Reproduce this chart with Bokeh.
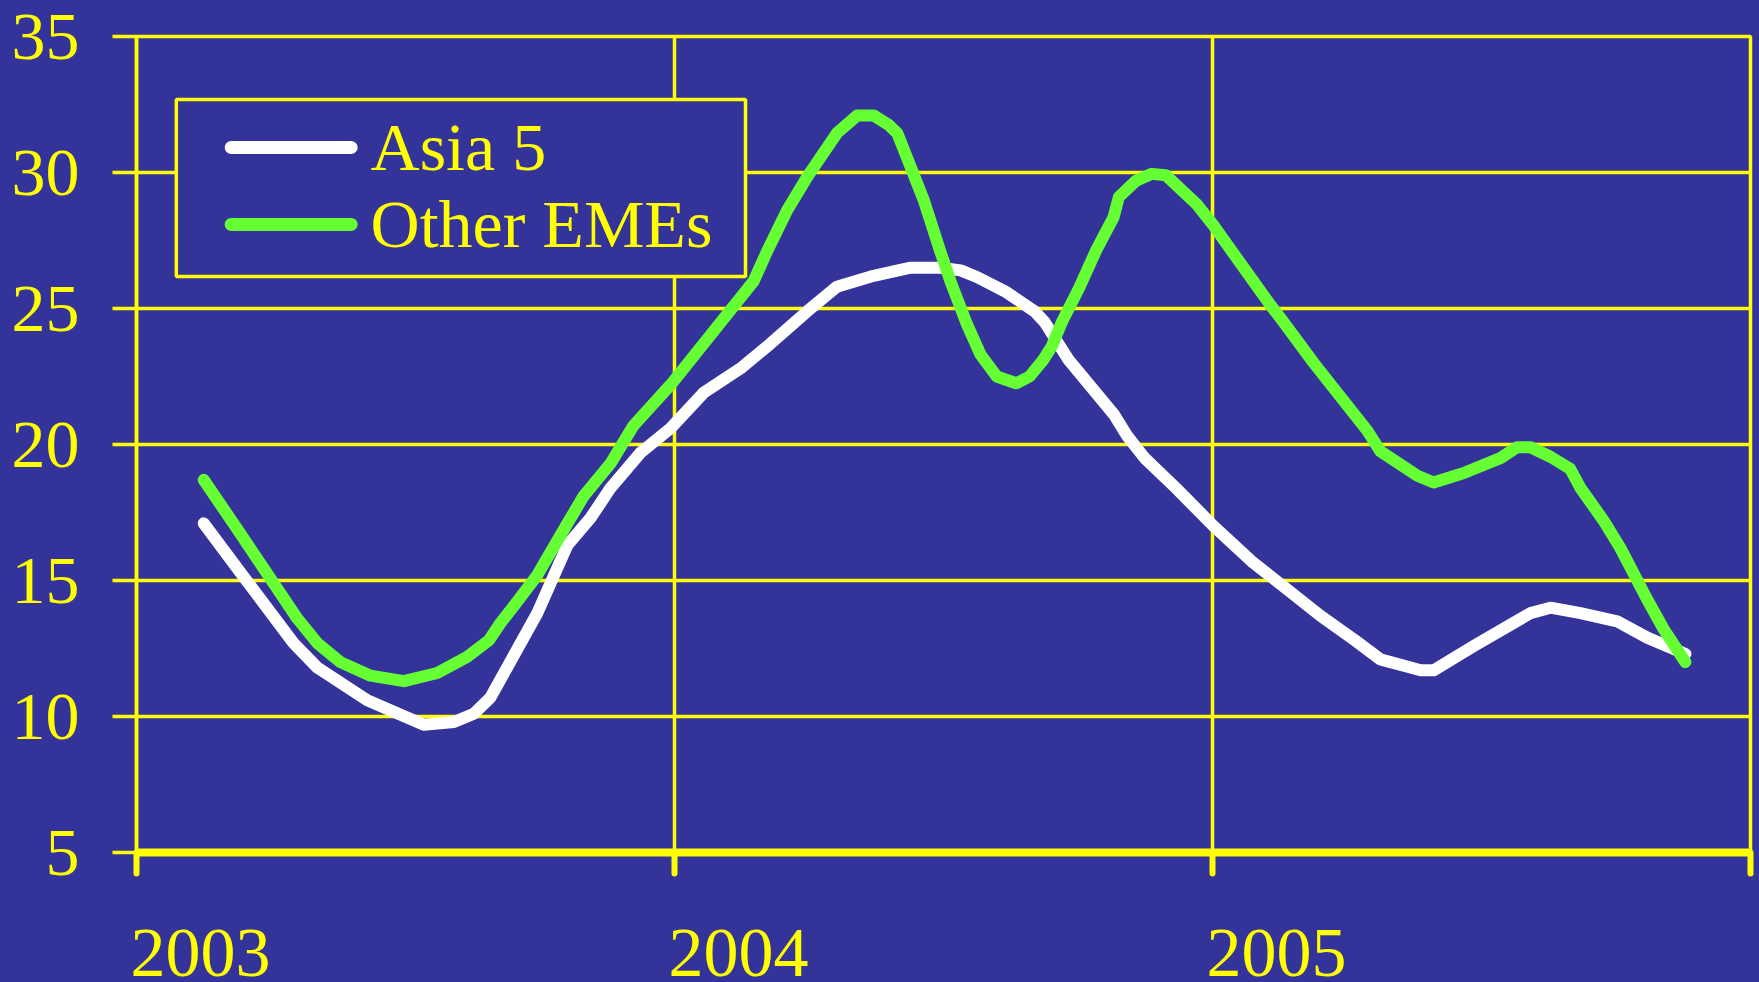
from bokeh.plotting import figure
from bokeh.models import Range1d, FixedTicker, BoxAnnotation, LinearAxis, PrintfTickFormatter
from bokeh.embed import file_html
from bokeh.resources import INLINE
from bokeh.core.properties import value

# ---------------- data ----------------
asia5_x = [2003.125, 2003.193, 2003.292, 2003.336, 2003.429, 2003.534, 2003.590, 2003.627,
           2003.658, 2003.745, 2003.801, 2003.844, 2003.881, 2003.937, 2003.993, 2004.054,
           2004.123, 2004.178, 2004.247, 2004.302, 2004.370, 2004.439, 2004.494, 2004.532,
           2004.563, 2004.617, 2004.669, 2004.688, 2004.733, 2004.817, 2004.842, 2004.874,
           2004.932, 2005.002, 2005.073, 2005.137, 2005.201, 2005.265, 2005.312, 2005.387,
           2005.411, 2005.486, 2005.591, 2005.628, 2005.684, 2005.752, 2005.808, 2005.879]
asia5 = [17.1, 15.3, 12.7, 11.8, 10.6, 9.7, 9.8, 10.1,
         10.7, 13.8, 16.3, 17.3, 18.4, 19.7, 20.6, 21.9,
         22.8, 23.7, 24.9, 25.8, 26.2, 26.5, 26.5, 26.4,
         26.15, 25.6, 24.9, 24.5, 23.1, 21.1, 20.3, 19.5,
         18.4, 17.0, 15.7, 14.7, 13.7, 12.8, 12.1, 11.7,
         11.7, 12.6, 13.8, 14.0, 13.8, 13.5, 12.9, 12.3]

other_x = [2003.125, 2003.187, 2003.299, 2003.336, 2003.379, 2003.435, 2003.497, 2003.559,
           2003.615, 2003.655, 2003.677, 2003.701, 2003.745, 2003.801, 2003.831, 2003.881,
           2003.924, 2003.993, 2004.147, 2004.172, 2004.209, 2004.247, 2004.302, 2004.340,
           2004.370, 2004.398, 2004.414, 2004.463, 2004.494, 2004.513, 2004.544, 2004.569,
           2004.599, 2004.635, 2004.660, 2004.685, 2004.701, 2004.720, 2004.752, 2004.784,
           2004.816, 2004.826, 2004.858, 2004.887, 2004.913, 2004.970, 2005.002, 2005.047,
           2005.105, 2005.130, 2005.188, 2005.238, 2005.288, 2005.312, 2005.381, 2005.411,
           2005.467, 2005.535, 2005.566, 2005.591, 2005.628, 2005.665, 2005.684, 2005.727,
           2005.758, 2005.808, 2005.839, 2005.879]
other_emes = [18.7, 16.9, 13.6, 12.7, 12.0, 11.5, 11.3, 11.6,
              12.2, 12.8, 13.45, 14.05, 15.2, 17.1, 18.1, 19.3,
              20.7, 22.2, 26.0, 27.1, 28.6, 29.85, 31.45, 32.1,
              32.1, 31.75, 31.45, 29.0, 27.1, 26.0, 24.4, 23.3,
              22.5, 22.25, 22.5, 23.1, 23.6, 24.5, 25.75, 27.15,
              28.35, 29.1, 29.7, 29.95, 29.9, 28.85, 28.05, 26.8,
              25.2, 24.55, 23.0, 21.75, 20.5, 19.75, 18.85, 18.6,
              18.95, 19.5, 19.9, 19.9, 19.55, 19.1, 18.4, 17.2,
              16.2, 14.3, 13.2, 12.0]

series_names = ["Asia 5", "Other EMEs"]
year_ticks = [2003, 2004, 2005, 2006]
year_label_years = [2003, 2004, 2005]
value_ticks = [5, 10, 15, 20, 25, 30, 35]

# ---------------- style ----------------
BG = "#333399"
YEL = "#FFFF00"
WHITE = "#FFFFFF"
GREEN = "#66FF33"
FONT = "Liberation Serif"
LABEL_SHIFT = 0.119   # year labels start at the tick and run to the right

p = figure(width=1759, height=982, output_backend="svg", toolbar_location=None,
           x_range=Range1d(2003, 2006), y_range=Range1d(5, 35),
           min_border_left=136, min_border_right=9, min_border_top=36, min_border_bottom=130,
           background_fill_color=BG, border_fill_color=BG,
           outline_line_color=YEL, outline_line_width=3.5, outline_line_alpha=1)

# grids
p.xgrid.ticker = FixedTicker(ticks=year_ticks)
p.ygrid.ticker = FixedTicker(ticks=value_ticks)
for g in (p.xgrid, p.ygrid):
    g.grid_line_color = YEL
    g.grid_line_width = 3.5
    g.grid_line_alpha = 1

# x axis: line and ticks (labels carried by the axis below it)
xa = p.xaxis[0]
xa.ticker = FixedTicker(ticks=year_ticks)
xa.major_label_overrides = {t: "" for t in year_ticks}
xa.major_label_text_font_size = "1px"
xa.major_label_standoff = 0
xa.axis_line_color = YEL
xa.axis_line_width = 8
xa.major_tick_line_color = YEL
xa.major_tick_line_width = 6
xa.major_tick_line_cap = "round"
xa.major_tick_out = 21
xa.major_tick_in = 0
xa.minor_tick_line_color = None

# x axis: year labels, set to the right of each tick
lab = LinearAxis(ticker=FixedTicker(ticks=[y + LABEL_SHIFT for y in year_label_years]),
                 formatter=PrintfTickFormatter(format="%d"),
                 axis_line_color=None, major_tick_line_color=None, minor_tick_line_color=None,
                 major_tick_out=0, major_tick_in=0,
                 major_label_standoff=56,
                 major_label_text_font=FONT, major_label_text_font_size="70px",
                 major_label_text_color=YEL)
p.add_layout(lab, "below")

# y axis
ya = p.yaxis[0]
ya.ticker = FixedTicker(ticks=value_ticks)
ya.major_label_text_font = FONT
ya.major_label_text_font_size = "68px"
ya.major_label_text_color = YEL
ya.major_label_standoff = 33
ya.axis_line_color = YEL
ya.axis_line_width = 3.5
ya.major_tick_line_color = YEL
ya.major_tick_line_width = 3.5
ya.major_tick_out = 24
ya.major_tick_in = 0
ya.minor_tick_line_color = None

# data lines
p.line(asia5_x, asia5, line_color=WHITE, line_width=12, line_join="round", line_cap="round")
p.line(other_x, other_emes, line_color=GREEN, line_width=12, line_join="round", line_cap="round")

# legend (drawn by hand; layout constants in data units)
LEG_LEFT, LEG_RIGHT, LEG_BOTTOM, LEG_TOP = 2003.074, 2004.132, 26.18, 32.68
LEG_LINE_X0, LEG_LINE_X1 = 2003.176, 2003.399
LEG_LINE_Y = [30.92, 28.09]
LEG_TEXT_X = 2003.435
LEG_TEXT_Y = [30.94, 28.11]

box = BoxAnnotation(left=LEG_LEFT, right=LEG_RIGHT, bottom=LEG_BOTTOM, top=LEG_TOP,
                    fill_color=BG, fill_alpha=1, line_color=YEL, line_alpha=1, line_width=3.5,
                    level="underlay")
p.add_layout(box)
p.segment(x0=[LEG_LINE_X0] * 2, y0=LEG_LINE_Y, x1=[LEG_LINE_X1] * 2, y1=LEG_LINE_Y,
          line_color=[WHITE, GREEN], line_width=13, line_cap="round")
p.text(x=[LEG_TEXT_X] * 2, y=LEG_TEXT_Y, text=series_names,
       text_font=value(FONT), text_font_size=value("68px"), text_color=YEL,
       text_align="left", text_baseline="alphabetic")

html = file_html(p, INLINE, title="Asia 5 vs Other EMEs")
html = html.replace("<head>", "<head><style>html,body{background:#333399;}</style>", 1)
open("out.html", "w").write(html)
